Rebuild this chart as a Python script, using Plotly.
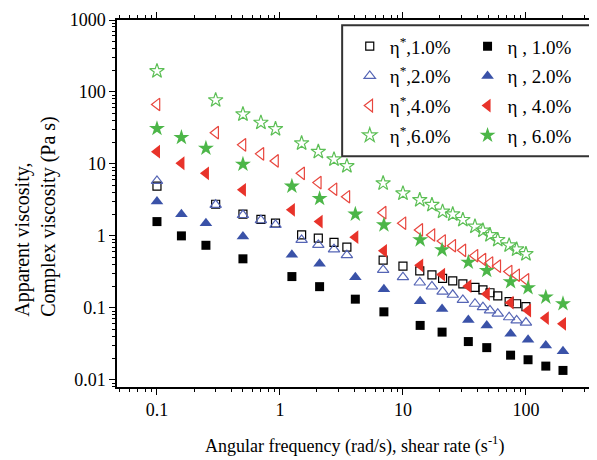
import plotly.graph_objects as go

# ---- data ----
# oscillation (complex viscosity, open symbols): angular frequency (rad/s)
osc_x = [0.1, 0.3, 0.5, 0.7, 0.92, 1.5, 2.05, 2.75, 3.5, 6.9, 10, 13.7, 17.2,
         21, 25.4, 30.7, 38.5, 44.7, 51, 59, 73, 84, 100]
eta_star_1 = [4.9, 2.75, 2.0, 1.7, 1.5, 1.03, 0.93, 0.81, 0.70, 0.46, 0.38, 0.327, 0.287,
              0.257, 0.237, 0.215, 0.193, 0.178, 0.162, 0.147, 0.122, 0.114, 0.104]
eta_star_2 = [5.8, 2.7, 1.95, 1.65, 1.42, 0.88, 0.75, 0.65, 0.54, 0.337, 0.267, 0.225, 0.198,
              0.168, 0.152, 0.129, 0.114, 0.102, 0.092, 0.083, 0.074, 0.067, 0.0625]
eta_star_4 = [67, 27.2, 18.4, 13.8, 11, 7.4, 5.5, 4.45, 3.5, 2.1, 1.5, 1.21, 1.03,
              0.85, 0.73, 0.63, 0.53, 0.47, 0.42, 0.38, 0.32, 0.284, 0.245]
eta_star_6 = [195, 77, 49, 37.5, 30.6, 19.4, 14.8, 11.6, 9.35, 5.4, 3.9, 3.16, 2.7,
              2.18, 2.0, 1.67, 1.35, 1.19, 1.03, 0.88, 0.74, 0.65, 0.56]

# steady shear (apparent viscosity, filled symbols): shear rate (1/s)
shear_x = [0.1, 0.158, 0.25, 0.5, 1.25, 2.1, 4.1, 7, 13.8, 20.8, 34, 48, 75, 104, 145, 200]
eta_1 = [1.58, 1.0, 0.74, 0.48, 0.272, 0.197, 0.132, 0.088, 0.057, 0.046, 0.034, 0.028,
         0.022, 0.019, 0.0155, 0.0135]
eta_2 = [3.0, 2.0, 1.5, 0.98, 0.545, 0.41, 0.267, 0.182, 0.123, 0.096, 0.068, 0.057,
         0.0435, 0.036, 0.030, 0.025]
eta_4 = [14.8, 10.2, 7.4, 4.36, 2.3, 1.58, 0.96, 0.62, 0.39, 0.29, 0.20, 0.156,
         0.118, 0.092, 0.072, 0.06]
eta_6 = [31, 23.3, 16.5, 9.9, 4.9, 3.3, 2.0, 1.42, 0.88, 0.64, 0.43, 0.33,
         0.23, 0.19, 0.141, 0.114]

concentrations = ["1.0%", "2.0%", "4.0%", "6.0%"]
x_tickvals = [0.1, 1, 10, 100]
x_ticktext = ["0.1", "1", "10", "100"]
y_tickvals = [0.01, 0.1, 1, 10, 100, 1000]
y_ticktext = ["0.01", "0.1", "1", "10", "100", "1000"]

colors = ["#000000", "#3a52a8", "#e8332a", "#4cb648"]
open_colors = ["#000000", "#5565b5", "#e8463e", "#5cbf55"]
open_symbols = ["square-open", "triangle-up-open", "triangle-left-open", "star-open"]
filled_symbols = ["square", "triangle-up", "triangle-left", "star"]
open_sizes = [8, 10, 11, 11]
filled_sizes = [9, 11, 12, 12]

FONT = "Liberation Serif"

fig = go.Figure()
osc_series = [eta_star_1, eta_star_2, eta_star_4, eta_star_6]
shear_series = [eta_1, eta_2, eta_4, eta_6]

for i, c in enumerate(concentrations):
    fig.add_trace(go.Scatter(
        x=osc_x, y=osc_series[i], mode="markers",
        name="η<sup>*</sup>,%s" % c, legend="legend", legendgroup="o%d" % i,
        marker=dict(symbol=open_symbols[i], size=open_sizes[i], color=open_colors[i],
                    line=dict(width=1.2, color=open_colors[i]))))
for i, c in enumerate(concentrations):
    fig.add_trace(go.Scatter(
        x=shear_x, y=shear_series[i], mode="markers",
        name="η , %s" % c, legend="legend2", legendgroup="f%d" % i,
        marker=dict(symbol=filled_symbols[i], size=filled_sizes[i], color=colors[i],
                    line=dict(width=0))))

axis_common = dict(
    type="log", showline=True, linecolor="black", linewidth=1.5, mirror="ticks",
    ticks="outside", ticklen=6, tickwidth=1.2, tickcolor="black",
    showgrid=False, zeroline=False, automargin=False,
    tickfont=dict(family=FONT, size=18, color="black"),
    minor=dict(dtick="D1", ticks="outside", ticklen=3, tickwidth=1, tickcolor="black", showgrid=False),
)

fig.update_xaxes(
    range=[-1.325, 2.537], tickmode="array", tickvals=x_tickvals, ticktext=x_ticktext,
    **axis_common)
fig.update_yaxes(
    range=[-2.1, 3.0], tickmode="array", tickvals=y_tickvals, ticktext=y_ticktext,
    **axis_common)

legend_common = dict(
    font=dict(family=FONT, size=19, color="black"), bgcolor="rgba(0,0,0,0)",
    borderwidth=0, orientation="v", xanchor="left", yanchor="top",
    tracegroupgap=2, itemsizing="trace")

# the page body adds an 8px offset, so the figure is 8px smaller than the window
fig.update_layout(
    width=589, height=452,
    margin=dict(l=109, r=5, t=12, b=73, autoexpand=False),
    paper_bgcolor="white", plot_bgcolor="white",
    showlegend=True,
    legend=dict(x=0.49, y=0.98, **legend_common),
    legend2=dict(x=0.738, y=0.98, **legend_common),
    shapes=[dict(type="rect", xref="paper", yref="paper",
                 x0=0.474, x1=1.0, y0=0.629, y1=0.986,
                 line=dict(color="#333333", width=2), fillcolor="rgba(0,0,0,0)")],
    annotations=[
        dict(text="Apparent viscosity,<br>Complex viscosity (Pa s)",
             xref="paper", yref="paper", x=-0.172, y=0.4646,
             xanchor="center", yanchor="middle", textangle=-90, align="left",
             showarrow=False, font=dict(family=FONT, size=20, color="black")),
        dict(text="Angular frequency (rad/s), shear rate (s<sup>-1</sup>)",
             xref="paper", yref="paper", x=0.5, y=-0.158,
             xanchor="center", yanchor="middle", showarrow=False,
             font=dict(family=FONT, size=18, color="black")),
    ],
)

fig.write_html("out.html")
